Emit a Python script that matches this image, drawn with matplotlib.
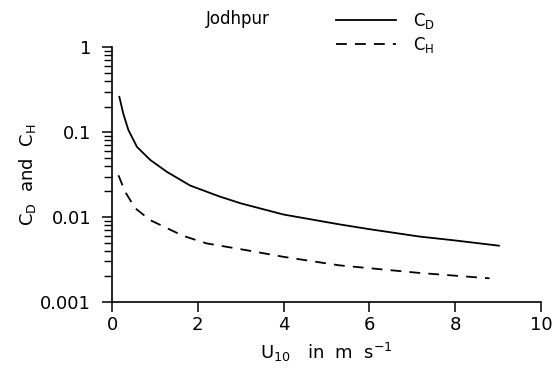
import numpy as np
import matplotlib.pyplot as plt
from matplotlib.ticker import LogLocator, FixedLocator, NullFormatter

# values
u_cd = [0.17, 0.26, 0.38, 0.58, 0.89, 1.28, 1.82, 2.5, 3.0, 4.0, 5.3, 6.0, 7.16, 8.0, 9.02]
cd = [0.26, 0.166, 0.106, 0.067, 0.047, 0.034, 0.0235, 0.0175, 0.0145, 0.0107, 0.0082,
      0.0072, 0.0059, 0.0053, 0.0046]
u_ch = [0.15, 0.30, 0.54, 0.89, 1.28, 1.66, 2.2, 3.1, 4.0, 5.3, 6.0, 7.16, 8.8]
ch = [0.031, 0.020, 0.0127, 0.0092, 0.0074, 0.006, 0.0049, 0.0041, 0.0034, 0.0027,
      0.0025, 0.0022, 0.0019]

plt.rcParams['font.family'] = 'DejaVu Sans'
plt.rcParams['mathtext.fontset'] = 'dejavusans'

fig = plt.figure(figsize=(5.52, 3.74), dpi=100)
ax = fig.add_axes([0.203, 0.1925, 0.777, 0.6815])

ax.plot(u_cd, cd, color='black', lw=1.3, ls='-', label=r'$\mathrm{C}_\mathrm{D}$')
ax.plot(u_ch, ch, color='black', lw=1.3, ls=(0, (6, 4.5)), label=r'$\mathrm{C}_\mathrm{H}$')

ax.set_yscale('log')
ax.set_ylim(0.001, 1)
ax.set_xlim(0, 10)
ax.xaxis.set_major_locator(FixedLocator([0, 2, 4, 6, 8, 10]))
ax.yaxis.set_major_locator(FixedLocator([0.001, 0.01, 0.1, 1]))
ax.set_yticklabels(['0.001', '0.01', '0.1', '1'])
ax.yaxis.set_minor_locator(LogLocator(base=10, subs=np.arange(2, 10)))
ax.yaxis.set_minor_formatter(NullFormatter())

for s in ['top', 'right']:
    ax.spines[s].set_visible(False)
for s in ['left', 'bottom']:
    ax.spines[s].set_linewidth(1.2)

ax.tick_params(axis='both', which='major', direction='out', length=7, width=1.1, labelsize=13)
ax.tick_params(axis='y', which='minor', direction='out', length=6, width=1.0)
ax.tick_params(axis='y', pad=8)
ax.tick_params(axis='x', pad=3)

ax.set_xlabel(r'$\mathrm{U}_{10}$   in  m  s$^{-1}$', fontsize=13, labelpad=5)
ax.set_ylabel(r'$\mathrm{C}_\mathrm{D}$  and  $\mathrm{C}_\mathrm{H}$', fontsize=13, labelpad=2)

fig.text(0.43, 0.95, 'Jodhpur', fontsize=12, ha='center', va='center')
ax.legend(loc='center left', bbox_to_anchor=(0.594, 0.912), bbox_transform=fig.transFigure,
          frameon=False, fontsize=12, handlelength=3.6, handletextpad=1.0,
          labelspacing=0.2, borderpad=0)

fig.savefig('out.png', dpi=100)
